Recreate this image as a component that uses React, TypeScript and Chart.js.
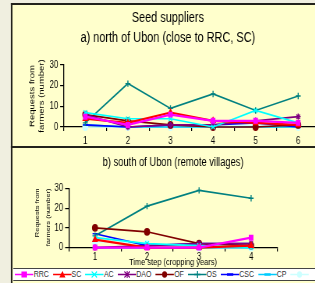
import React, { useEffect, useRef } from 'react';
import { Chart, registerables } from 'chart.js';
Chart.register(...registerables);

const FONT = '"Liberation Sans", Arial, sans-serif';
const S = 0.78;
const X = (v: number) => v / S;

const seriesNames = ['RRC', 'SC', 'AC', 'DAO', 'OF', 'OS', 'CSC', 'CP', ''];
const seriesColors = ['#ff00ff', '#ff0000', '#00ffff', '#800080', '#800000', '#008080', '#0000ff', '#00ccff', '#ccffff'];
const seriesMarkers = ['rect', 'triangle', 'crossRot', 'star', 'circle', 'cross', 'line', 'line', 'circle'];

const northYears = ['1', '2', '3', '4', '5', '6'];
const northRRC = [5, 1, 6, 3, 3, 2];
const northSC = [4, 2, 7, 3, 2, 1];
const northAC = [7, 4, 4, 0, 8, 2];
const northDAO = [6, 0, 1, 1, 3, 5];
const northOF = [6, 3, 1, 0, 0, 1];
const northOS = [2, 21, 9, 16, 8, 15];
const northCSC = [1, 0, 1, 1, 2, 0];
const northCP = [1, 0, 0, 0, 0, 0];
const northOther = [0, 0, 0, 0, 1, 0];

const southYears = ['1', '2', '3', '4'];
const southRRC = [0, 0, 0, 5];
const southSC = [4, 0, 0, 1];
const southAC = [5, 2, 1, 0];
const southDAO = [0, 1, 2, 2];
const southOF = [10, 8, 2, 1];
const southOS = [6, 21, 29, 25];
const southCSC = [7, 1, 2, 2];
const southCP = [0, 0, 0, 0];
const southOther = [3, 2, 0, 0];

const yTicks = [0, 10, 20, 30];

const topTitle = ['Seed suppliers', 'a) north of Ubon (close to RRC, SC)'];
const bottomTitle = 'b) south of Ubon (remote villages)';
const yTitle = ['Requests from', 'farmers (number)'];
const xTitle = 'Time step (cropping years)';

function makeDatasets(values: number[][]) {
  return values.map((v, i) => ({
    label: seriesNames[i] || 'series 9',
    data: v,
    borderColor: seriesColors[i],
    backgroundColor: seriesColors[i],
    borderWidth: i < 2 ? 2.2 : 1.7,
    pointStyle: seriesMarkers[i],
    pointRadius: 3.2,
    pointBorderWidth: 1.4,
    tension: 0,
    clip: false as any,
  }));
}

function yScale(width: number, titleFont: any, titlePad: any, align: string) {
  return {
    min: 0,
    max: 30,
    afterFit: (s: any) => { s.width = width; },
    afterBuildTicks: (s: any) => { s.ticks = yTicks.map((v) => ({ value: v })); },
    grid: { drawOnChartArea: false, drawTicks: true, tickLength: 5, color: '#000', lineWidth: 1.2 },
    border: { display: true, color: '#000', width: 1.3 },
    ticks: { color: '#000', font: { family: FONT, size: 10 }, padding: 2.5 },
    title: { display: true, text: yTitle, color: '#000', font: titleFont, padding: titlePad, align },
  };
}

function xScale(tickFont: any, tickPad: number, title?: any) {
  return {
    offset: true,
    grid: { offset: true, drawOnChartArea: false, drawTicks: true, tickLength: 4, color: '#000', lineWidth: 1.2 },
    border: { display: true, color: '#000', width: 1.2 },
    ticks: { color: '#000', font: tickFont, padding: tickPad, maxRotation: 0, autoSkip: false },
    title: title || { display: false },
  };
}

function ChartCanvas({ config, w, h, left, top }: any) {
  const ref = useRef<HTMLCanvasElement>(null);
  useEffect(() => {
    const c = new Chart(ref.current as HTMLCanvasElement, config);
    return () => c.destroy();
  }, []);
  return (
    <canvas ref={ref} width={w} height={h}
      style={{ position: 'absolute', left, top, width: w, height: h }} />
  );
}

function Marker({ i }: { i: number }) {
  const c = seriesColors[i];
  const m = seriesMarkers[i];
  const cx = 12, cy = 5.5;
  let mark: any = null;
  if (m === 'rect') mark = <rect x={cx - 3.5} y={cy - 3} width={7} height={6} fill={c} />;
  else if (m === 'triangle') mark = <polygon points={`${cx},${cy - 3.5} ${cx + 4},${cy + 3} ${cx - 4},${cy + 3}`} fill={c} />;
  else if (m === 'crossRot') mark = <path d={`M${cx - 3.5} ${cy - 3}L${cx + 3.5} ${cy + 3}M${cx - 3.5} ${cy + 3}L${cx + 3.5} ${cy - 3}`} stroke={c} strokeWidth={1.3} />;
  else if (m === 'star') mark = <path d={`M${cx - 3.5} ${cy - 3}L${cx + 3.5} ${cy + 3}M${cx - 3.5} ${cy + 3}L${cx + 3.5} ${cy - 3}M${cx} ${cy - 3.5}L${cx} ${cy + 3.5}`} stroke={c} strokeWidth={1.3} />;
  else if (m === 'circle') mark = <circle cx={cx} cy={cy} r={3.2} fill={c} />;
  else if (m === 'cross') mark = <path d={`M${cx - 4} ${cy}L${cx + 4} ${cy}M${cx} ${cy - 3.5}L${cx} ${cy + 3.5}`} stroke={c} strokeWidth={1.3} />;
  else if (m === 'line') mark = <path d={`M${cx - 4} ${cy}L${cx + 4} ${cy}`} stroke={c} strokeWidth={2.5} />;
  return (
    <svg width={24} height={11} style={{ display: 'block' }}>
      <line x1={0} y1={cy} x2={24} y2={cy} stroke={c} strokeWidth={1.6} />
      {mark}
    </svg>
  );
}

export default function App() {
  const north = [northRRC, northSC, northAC, northDAO, northOF, northOS, northCSC, northCP, northOther];
  const south = [southRRC, southSC, southAC, southDAO, southOF, southOS, southCSC, southCP, southOther];

  const topConfig: any = {
    type: 'line',
    data: { labels: northYears, datasets: makeDatasets(north) },
    options: {
      responsive: false, animation: false, maintainAspectRatio: false,
      layout: { padding: { left: X(12), right: 0, top: 0, bottom: 0 } },
      plugins: {
        legend: { display: false }, tooltip: { enabled: false },
        title: {
          display: true, text: topTitle, color: '#000',
          font: { family: FONT, size: 14, weight: 'normal', lineHeight: 20 / 14 },
          padding: { top: 8, bottom: 17 },
        },
      },
      scales: {
        x: xScale({ family: FONT, size: 10, lineHeight: 1.2 }, 4),
        y: yScale(X(52), { family: FONT, size: 9.5, lineHeight: X(10) / 9.5 }, { top: X(32) - X(12) - X(10) / 2, bottom: 2 }, 'center'),
      },
    },
  };

  const bottomConfig: any = {
    type: 'line',
    data: { labels: southYears, datasets: makeDatasets(south) },
    options: {
      responsive: false, animation: false, maintainAspectRatio: false,
      layout: { padding: { left: X(12), right: X(38), top: 0, bottom: 0 } },
      plugins: {
        legend: { display: false }, tooltip: { enabled: false },
        title: {
          display: true, text: bottomTitle, color: '#000', fullSize: false,
          font: { family: FONT, size: 12, weight: 'normal', lineHeight: 1.2 },
          padding: { top: 6, bottom: 19 },
        },
      },
      scales: {
        x: xScale({ family: FONT, size: 10, lineHeight: 1 }, 1,
          { display: true, text: xTitle, color: '#000', font: { family: FONT, size: 9.5, lineHeight: 1.1 }, padding: { top: -6, bottom: 0 } }),
        y: yScale(X(57), { family: FONT, size: 7.5, lineHeight: X(11) / 7.5 }, { top: X(37.5) - X(12) - X(11) / 2, bottom: 2 }, 'end'),
      },
    },
  };

  return (
    <div style={{ position: 'fixed', left: 0, top: 0, width: 315, height: 283, overflow: 'hidden', background: '#f0efe0' }}>
      <div style={{ position: 'absolute', left: 0, top: 0, width: X(315), height: 283, transform: `scaleX(${S})`, transformOrigin: '0 0' }}>
        <div style={{ position: 'absolute', left: X(11), top: 3, width: X(320), height: 300, background: '#ffffcc', borderTop: '2px solid #23231c', borderLeft: '2.5px solid #23231c' }} />
        <ChartCanvas config={topConfig} w={Math.round(X(324))} h={151} left={0} top={0} />
        <ChartCanvas config={bottomConfig} w={Math.round(X(315))} h={119} left={0} top={149} />
        <div style={{ position: 'absolute', left: X(11), top: 146, width: X(310), height: 2, background: '#23231c' }} />
        <div style={{ position: 'absolute', left: X(13), top: 268, width: X(310), height: 11, background: '#ffffff', borderTop: '1px solid #444', borderBottom: '1px solid #444', display: 'flex', alignItems: 'center', gap: 5, paddingLeft: X(2), whiteSpace: 'nowrap' }}>
          {seriesNames.map((n, i) => (
            <div key={i} style={{ display: 'flex', alignItems: 'center' }}>
              <Marker i={i} />
              {n ? <span style={{ font: `9px ${FONT}`, color: '#333', lineHeight: '11px' }}>{n}</span> : null}
            </div>
          ))}
        </div>
      </div>
    </div>
  );
}
